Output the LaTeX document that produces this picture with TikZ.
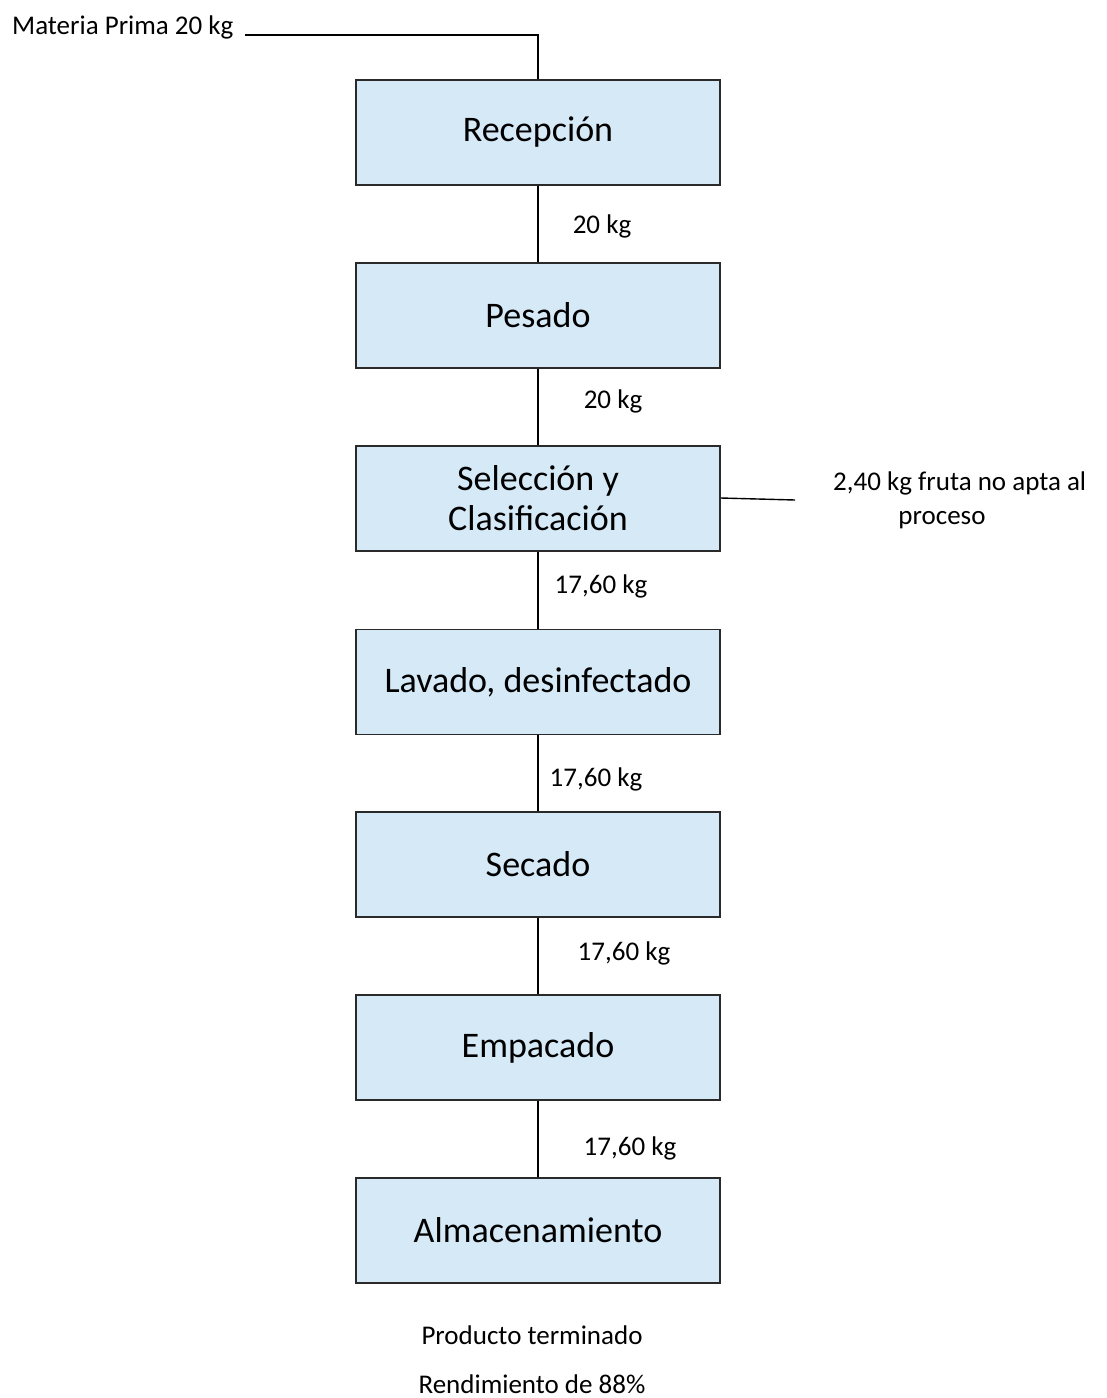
\documentclass[tikz,border=0pt]{standalone}
\usepackage{fontspec}
\setmainfont{Carlito}
\usepackage{tikz}
\usepackage{xcolor}

\definecolor{boxfill}{HTML}{D5E9F7}
\definecolor{boxline}{HTML}{2A2A2A}

\tikzset{
  procbox/.style={draw=boxline,line width=1.5pt,fill=boxfill,minimum width=364pt,
    minimum height=105pt,align=center,font=\fontsize{36}{40}\selectfont},
  flowtxt/.style={font=\fontsize{27}{32}\selectfont,inner sep=0pt},
  flowline/.style={draw=black,line width=1.4pt}
}

\begin{document}
\begin{tikzpicture}[x=1pt,y=-1pt]
\useasboundingbox (0,0) rectangle (1107,1398);

% process steps
\node[procbox] (rec) at (538,132.5) {Recepci\'on};
\node[procbox] (pes) at (538,315.5) {Pesado};
\node[procbox] (sel) at (538,498.5) {Selecci\'on y\\Clasificaci\'on};
\node[procbox] (lav) at (538,682) {Lavado, desinfectado};
\node[procbox] (sec) at (538,864.5) {Secado};
\node[procbox] (emp) at (538,1047.5) {Empacado};
\node[procbox] (alm) at (538,1230.5) {Almacenamiento};

% input
\node[flowtxt,anchor=west] (mp) at (12,27) {Materia Prima 20 kg};
\coordinate (mpend) at (245,35);
\draw[flowline] (mpend) -| (rec.north);

% flows between steps
\draw[flowline] (rec) -- (pes);
\draw[flowline] (pes) -- (sel);
\draw[flowline] (sel) -- (lav);
\draw[flowline] (lav) -- (sec);
\draw[flowline] (sec) -- (emp);
\draw[flowline] (emp) -- (alm);

\node[flowtxt] (m1) at (602,226) {20 kg};
\node[flowtxt] (m2) at (613,401) {20 kg};
\node[flowtxt] (m3) at (601,586) {17,60 kg};
\node[flowtxt] (m4) at (596,779) {17,60 kg};
\node[flowtxt] (m5) at (624,953) {17,60 kg};
\node[flowtxt] (m6) at (630,1148) {17,60 kg};

% waste
\coordinate (wend) at (795,500);
\draw[flowline] (sel.east |- 0,498) -- (wend);
\node[flowtxt,anchor=west] (w1) at (833,483) {2,40 kg fruta no apta al};
\node[flowtxt] (w2) at (942,520) {proceso};

% output
\node[flowtxt] (out1) at (532,1335) {Producto terminado};
\node[flowtxt] (out2) at (532,1384) {Rendimiento de 88\%};
\end{tikzpicture}
\end{document}
